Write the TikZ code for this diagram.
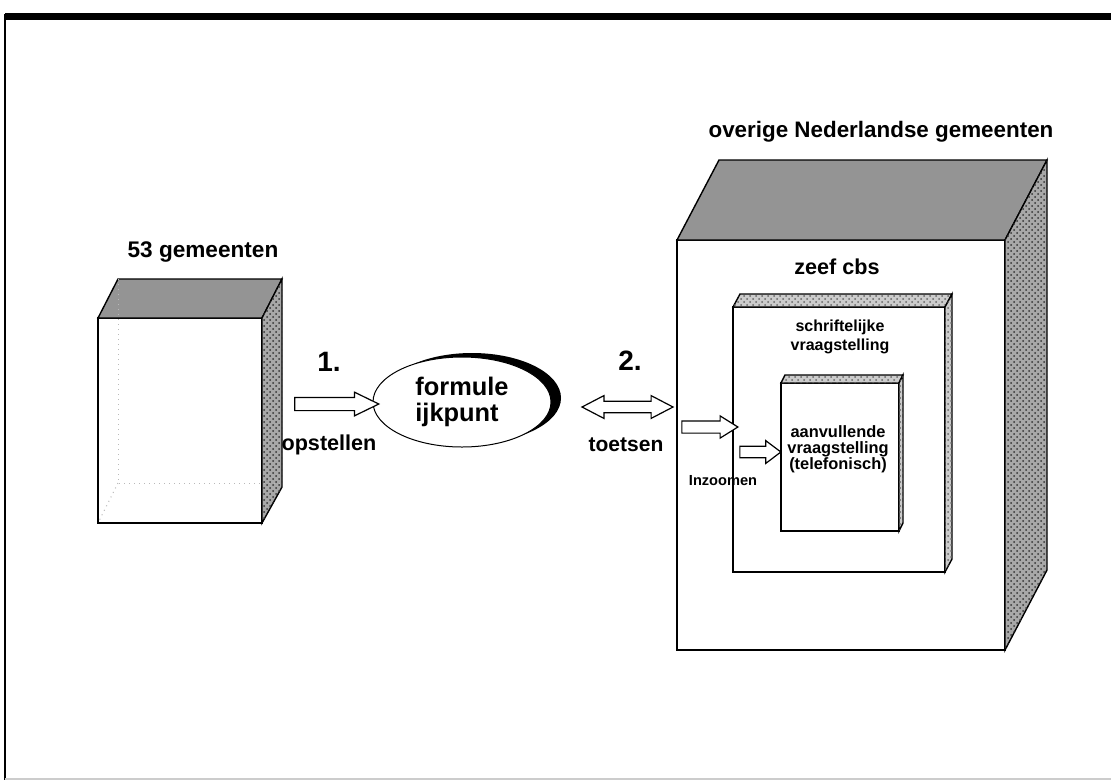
\documentclass[tikz,border=0pt]{standalone}
\usepackage{fontspec}
\setmainfont{Liberation Sans}
\usepackage {tikz}
\usetikzlibrary {positioning,shapes.geometric,shapes.arrows,shadows,patterns}
\definecolor {topgray}{gray}{0.58}
\definecolor {sidegray}{gray}{0.66}

\begin{document}
\begin{tikzpicture}[x=0.5pt,y=-0.5pt,line width=0.7pt]
  \tikzstyle{front}=[draw, fill=white, inner sep=0pt, outer sep=0pt]
  \tikzstyle{topface}=[draw, fill=topgray]
  \tikzstyle{sideface}=[draw, fill=sidegray, postaction={pattern=crosshatch dots, pattern color=black!80}]
  \tikzstyle{stripface}=[draw, fill=gray!40, postaction={pattern=crosshatch dots, pattern color=black!60}]
  \tikzstyle{hollow}=[single arrow, draw, fill=white, line width=0.6pt, inner xsep=0pt, minimum width=0pt]
  \tikzstyle{hollowboth}=[double arrow, draw, fill=white, line width=0.6pt, inner xsep=0pt, minimum width=0pt]
  \tikzstyle{label}=[inner sep=0pt, align=center]
  \useasboundingbox (0,0) rectangle (1111,782);

  % frame
  \draw[line width=3.5pt] (5,16) -- (1111,16);
  \draw[line width=1pt] (5,14) -- (5,780);
  \draw[gray!40, line width=1pt] (5,779) -- (1111,779);

  % 53 gemeenten
  \node[front, minimum width=82pt, minimum height=102.5pt] (box_53) at (180,420.5) {};
  \draw[topface] (box_53.north west) -- ++(20,-39) -- ++(164,0) -- (box_53.north east) -- cycle;
  \draw[sideface] (box_53.north east) -- ++(20,-39) -- ++(0,208) -- (box_53.south east) -- cycle;
  \draw[gray!55, dotted, line width=0.5pt] (118,279) -- (118,483) -- (282,483);
  \draw[gray!55, dotted, line width=0.5pt] (118,483) -- (box_53.south west);
  \node[label, font=\fontsize{11.3}{13}\selectfont\bfseries] (t_53) at (203,252) {53 gemeenten};

  % overige gemeenten
  \node[front, minimum width=164pt, minimum height=205pt] (box_ned) at (841,445) {};
  \draw[topface] (box_ned.north west) -- ++(42,-80) -- ++(328,0) -- (box_ned.north east) -- cycle;
  \draw[sideface] (box_ned.north east) -- ++(42,-80) -- ++(0,410) -- (box_ned.south east) -- cycle;
  \node[label, font=\fontsize{11.2}{13}\selectfont\bfseries] (t_ned) at (881,132) {overige Nederlandse gemeenten};
  \node[label, font=\fontsize{10.8}{13}\selectfont\bfseries] (t_cbs) at (837,267) {zeef cbs};

  \node[front, minimum width=106pt, minimum height=132.5pt] (box_cbs) at (839,439.5) {};
  \draw[stripface] (box_cbs.north west) -- ++(7,-13) -- ++(212,0) -- (box_cbs.north east) -- cycle;
  \draw[stripface] (box_cbs.north east) -- ++(7,-13) -- ++(0,265) -- (box_cbs.south east) -- cycle;
  \node[label, font=\fontsize{8}{9.5}\selectfont\bfseries] (t_schr) at (840,337) {schriftelijke\\vraagstelling};

  \node[front, minimum width=59pt, minimum height=74pt] (box_tel) at (840,457) {};
  \draw[stripface] (box_tel.north west) -- ++(4,-8) -- ++(118,0) -- (box_tel.north east) -- cycle;
  \draw[stripface] (box_tel.north east) -- ++(4,-8) -- ++(0,148) -- (box_tel.south east) -- cycle;
  \node[label, font=\fontsize{8.2}{8}\selectfont\bfseries] (t_tel) at (838,449) {aanvullende\\vraagstelling\\(telefonisch)};

  % ijkpunt
  \node[ellipse, draw, fill=white, line width=0.5pt, minimum width=89pt, minimum height=45pt,
    drop shadow={shadow xshift=5pt, shadow yshift=2pt, opacity=1, fill=black},
    align=left, font=\fontsize{12.7}{13}\selectfont\bfseries] (ijk) at (462,402) {formule\\ijkpunt};

  % arrows
  \node[hollow, minimum height=42pt, inner ysep=3pt, single arrow head extend=2.6pt, single arrow tip angle=52] (arr_1) at (330,404) {};
  \node[hollowboth, minimum height=45.5pt, inner ysep=2.6pt, double arrow head extend=2.8pt, double arrow tip angle=55] (arr_2) at (627.5,407) {};
  \node[hollow, minimum height=28pt, inner ysep=2.75pt, single arrow head extend=2.5pt, single arrow tip angle=64] (arr_z1) at (705,427) {};
  \node[hollow, minimum height=20.5pt, inner ysep=2.6pt, single arrow head extend=2.8pt, single arrow tip angle=74] (arr_z2) at (756.5,452) {};

  \node[label, font=\fontsize{14}{16}\selectfont\bfseries] (n_1) at (329,362) {1.};
  \node[label, font=\fontsize{14}{16}\selectfont\bfseries] (n_2) at (630,361) {2.};
  \node[label, font=\fontsize{10.8}{13}\selectfont\bfseries] (t_op) at (329,445) {opstellen};
  \node[label, font=\fontsize{10.5}{13}\selectfont\bfseries] (t_toets) at (626,445) {toetsen};
  \node[label, font=\fontsize{7.3}{9}\selectfont\bfseries] (t_zoom) at (723,481) {Inzoomen};
\end{tikzpicture}
\end{document}
